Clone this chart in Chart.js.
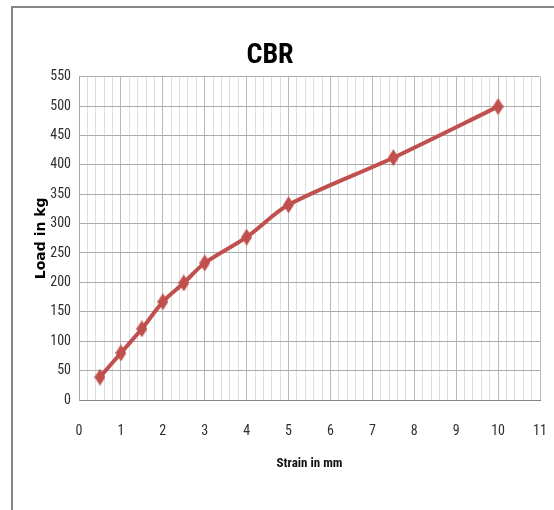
<!DOCTYPE html>
<html>
<head>
<meta charset="utf-8">
<script src="https://cdn.jsdelivr.net/npm/chart.js@4"></script>
<style>
    html, body { margin: 0; background: #fff; overflow: hidden; }
    #wrap { position: absolute; left: 0; top: 0; width: 554px; height: 510px; }
    #frame {
        position: absolute; left: 11px; top: 6px; width: 541px; height: 502px;
        border-top: 2px solid #868686; border-left: 2px solid #868686;
        pointer-events: none;
    }
</style>
</head>
<body>
<div id="wrap"><canvas id="cbrChart"></canvas></div>
<div id="frame"></div>
<script>
const strainMm = [0.5, 1, 1.5, 2, 2.5, 3, 4, 5, 7.5, 10];
const loadKg = [39, 80, 121, 167, 199, 233, 277, 332, 412, 499];
const xTicks = [0, 1, 2, 3, 4, 5, 6, 7, 8, 9, 10, 11];
const yTicks = [0, 50, 100, 150, 200, 250, 300, 350, 400, 450, 500, 550];

// the original uses a narrow (Calibri-like) face; take a condensed one if there is one
const narrow = "'Liberation Sans Narrow', 'Roboto Condensed', 'Liberation Sans', sans-serif";

// tall thin diamond marker, like the Excel one
function makeDiamond(w, h, color) {
    const c = document.createElement('canvas');
    c.width = w;
    c.height = h;
    const g = c.getContext('2d');
    g.fillStyle = color;
    g.beginPath();
    g.moveTo(w / 2, 0);
    g.lineTo(w, h / 2);
    g.lineTo(w / 2, h);
    g.lineTo(0, h / 2);
    g.closePath();
    g.fill();
    return c;
}

const marker = makeDiamond(11, 17, '#C0504D');

new Chart(document.getElementById('cbrChart'), {
    type: 'line',
    data: {
        datasets: [{
            label: 'Load',
            data: strainMm.map((x, i) => ({ x: x, y: loadKg[i] })),
            borderColor: '#C0504D',
            backgroundColor: '#C0504D',
            borderWidth: 4,
            tension: 0.3,
            pointStyle: marker,
            pointRadius: 6,
            pointHoverRadius: 6,
        }]
    },
    options: {
        responsive: true,
        maintainAspectRatio: false,
        animation: false,
        layout: { padding: { left: 0, right: 14, top: 0, bottom: 0 } },
        plugins: {
            legend: { display: false },
            tooltip: { enabled: false },
            title: {
                display: true,
                text: 'CBR',
                color: '#000',
                font: { family: narrow, size: 28, weight: 'bold condensed', lineHeight: 1.2 },
                padding: { top: 39, bottom: 4 }
            }
        },
        scales: {
            x: {
                type: 'linear',
                min: xTicks[0],
                max: xTicks[xTicks.length - 1],
                afterFit: (scale) => {
                    scale.height = 110;
                    scale.paddingRight = 0;
                },
                border: { color: '#868686', width: 1 },
                grid: {
                    drawTicks: false,
                    color: (ctx) => Number.isInteger(ctx.tick.value) ? '#b9b9b9' : '#dedede',
                    lineWidth: 1
                },
                ticks: {
                    stepSize: 0.2,
                    autoSkip: false,
                    maxRotation: 0,
                    padding: 23,
                    color: '#2e2e2e',
                    font: { family: narrow, size: 14, weight: 'normal condensed' },
                    callback: (v) => xTicks.includes(v) ? v : ''
                },
                title: {
                    display: true,
                    text: 'Strain in mm',
                    color: '#111',
                    font: { family: narrow, size: 13, weight: 'bold condensed', lineHeight: 1.2 },
                    padding: { top: 0, bottom: 38 }
                }
            },
            y: {
                min: yTicks[0],
                max: yTicks[yTicks.length - 1],
                afterFit: (scale) => { scale.width = 79; },
                border: { color: '#a6a6a6', width: 1 },
                grid: { drawTicks: false, color: '#ababab', lineWidth: 1 },
                ticks: {
                    stepSize: 50,
                    padding: 8,
                    color: '#2e2e2e',
                    font: { family: narrow, size: 14, weight: 'normal condensed' }
                },
                title: {
                    display: true,
                    text: 'Load in kg',
                    color: '#000',
                    font: { family: "'DejaVu Sans', sans-serif", size: 14, weight: 'bold', lineHeight: 1.2 },
                    padding: { top: 33, bottom: 0 }
                }
            }
        }
    }
});
</script>
</body>
</html>
